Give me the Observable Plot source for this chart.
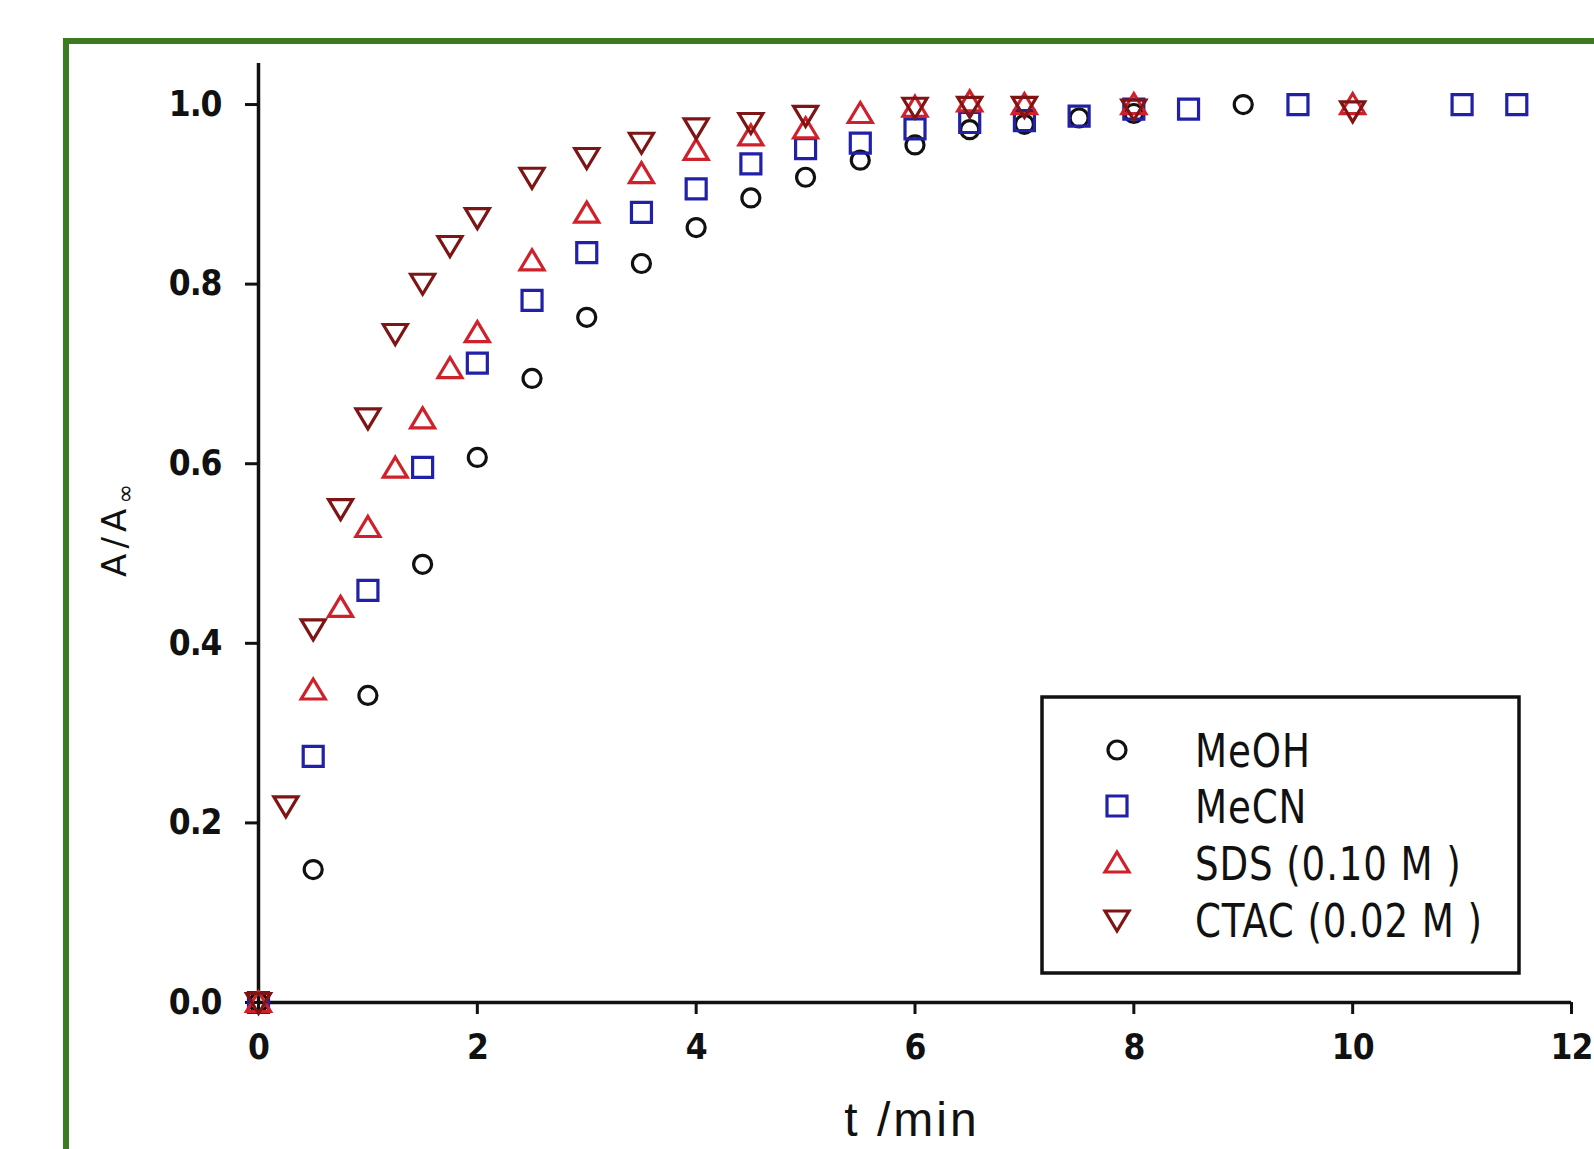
<!DOCTYPE html>
<html><head><meta charset="utf-8">
<script src="https://cdn.jsdelivr.net/npm/d3@7"></script>
<script src="https://cdn.jsdelivr.net/npm/@observablehq/plot@0.6"></script>
<style>
html,body{margin:0;padding:0;background:#fff;}
#wrap{position:relative;width:1594px;height:1149px;overflow:hidden;background:#fff;}
#frame{position:absolute;left:63px;top:38px;width:1700px;height:1300px;border:6px solid #3b7a1f;box-sizing:border-box;}
#chart{position:absolute;left:0;top:0;}
#overlay{position:absolute;left:0;top:0;pointer-events:none;}
.narrow{font-family:"Liberation Sans Narrow","Arial Narrow","DejaVu Sans Condensed",sans-serif;}
#ylab{position:absolute;left:117px;top:528px;transform:translate(-50%,-50%) rotate(-90deg) scale(1,0.9);font-size:38px;letter-spacing:5px;white-space:pre;line-height:1;color:#111;}
</style></head>
<body>
<div id="wrap">
  <div id="frame"></div>
  <div id="chart"></div>
  <div id="ylab" class="narrow">A/A<sub style="font-size:26px">∞</sub></div>
</div>
<script>
// ---- data ----
const seriesNames = ["MeOH", "MeCN", "SDS (0.10 M )", "CTAC (0.02 M )"];

const meohT = [0,0.5,1,1.5,2,2.5,3,3.5,4,4.5,5,5.5,6,6.5,7,7.5,8,9];
const meohV = [0,0.148,0.342,0.488,0.607,0.695,0.763,0.823,0.863,0.896,0.919,0.938,0.955,0.972,0.978,0.985,0.99,1.0];

const mecnT = [0,0.5,1,1.5,2,2.5,3,3.5,4,4.5,5,5.5,6,6.5,7,7.5,8,8.5,9.5,11,11.5];
const mecnV = [0,0.274,0.459,0.596,0.712,0.782,0.835,0.880,0.906,0.934,0.951,0.957,0.973,0.980,0.982,0.987,0.995,0.995,1.0,1.0,1.0];

const sdsT = [0,0.5,0.75,1,1.25,1.5,1.75,2,2.5,3,3.5,4,4.5,5,5.5,6,6.5,7,8,10];
const sdsV = [0,0.348,0.44,0.529,0.595,0.65,0.706,0.746,0.826,0.879,0.923,0.949,0.965,0.973,0.99,0.997,1.003,1.0,1.0,1.0];

const ctacT = [0,0.25,0.5,0.75,1,1.25,1.5,1.75,2,2.5,3,3.5,4,4.5,5,6,6.5,7,8,10];
const ctacV = [0,0.219,0.416,0.55,0.651,0.745,0.801,0.843,0.874,0.919,0.941,0.958,0.974,0.980,0.988,0.997,0.998,0.998,0.995,0.993];

const xTicks = [0,2,4,6,8,10,12];
const yTicks = [0,0.2,0.4,0.6,0.8,1.0];
const xLabel = "t /min";
const colors = ["#111111", "#2020a8", "#d0202a", "#7e1414"];

// ---- symbols ----
const symCircle = {draw(c){ c.moveTo(9,0); c.arc(0,0,9,0,2*Math.PI); c.closePath(); }};
const symSquare = {draw(c){ c.rect(-10,-10,20,20); }};
const symTriUp = {draw(c){ c.moveTo(0,-11); c.lineTo(12,9); c.lineTo(-12,9); c.closePath(); }};
const symTriDown = {draw(c){ c.moveTo(0,11); c.lineTo(12,-9); c.lineTo(-12,-9); c.closePath(); }};
const symbols = [symCircle, symSquare, symTriUp, symTriDown];

const rows = (T, V) => T.map((t, i) => ({t, v: V[i]}));
const sets = [rows(meohT, meohV), rows(mecnT, mecnV), rows(sdsT, sdsV), rows(ctacT, ctacV)];

const yTop = 1.0457;
const font = '"Liberation Sans Narrow","Arial Narrow","DejaVu Sans Condensed",sans-serif';

const plot = Plot.plot({
  width: 1594, height: 1149,
  marginLeft: 258, marginRight: 23, marginTop: 63, marginBottom: 147,
  x: {domain: [0, 12]},
  y: {domain: [0, yTop]},
  style: {background: "transparent", fontFamily: font, fontSize: "35px", fontWeight: "bold", color: "#111", letterSpacing: "-1px"},
  marks: [
    Plot.axisY({ticks: yTicks, tickFormat: d3.format(".1f"), tickSize: 13, tickPadding: 24, label: null, strokeWidth: 3}),
    Plot.axisX({ticks: xTicks, tickSize: 12, tickPadding: 20, label: null, strokeWidth: 3}),
    Plot.ruleX([0], {y1: 0, y2: yTop, stroke: "#111", strokeWidth: 3.5}),
    Plot.ruleY([0], {x1: 0, x2: 12, stroke: "#111", strokeWidth: 3.5}),
    ...sets.map((d, i) => Plot.dot(d, {x: "t", y: "v", symbol: symbols[i], r: 10, stroke: colors[i], strokeWidth: 3.2, fill: "none"}))
  ]
});
document.getElementById("chart").appendChild(plot);

// ---- overlay: x label + legend ----
const ov = d3.select("#wrap").append("svg").attr("id", "overlay").attr("width", 1594).attr("height", 1149);
ov.append("text").attr("x", 912).attr("y", 1136).attr("text-anchor", "middle")
  .attr("font-family", '"Liberation Sans",Arial,sans-serif').attr("font-size", 48)
  .attr("letter-spacing", 3).attr("fill", "#111").style("white-space", "pre").text(xLabel);

ov.append("rect").attr("x", 1042).attr("y", 697).attr("width", 477).attr("height", 276)
  .attr("fill", "#fff").attr("stroke", "#111").attr("stroke-width", 3.5);
const rowY = [750, 806, 863, 920];
seriesNames.forEach((name, i) => {
  const p = d3.path(); symbols[i].draw(p);
  ov.append("path").attr("d", p.toString()).attr("transform", `translate(1117,${rowY[i]})`)
    .attr("fill", "none").attr("stroke", colors[i]).attr("stroke-width", 3.2);
  ov.append("g").attr("transform", `translate(1195,${rowY[i]}) scale(0.88,1)`)
    .append("text").attr("dy", "0.36em")
    .attr("font-family", font).attr("font-size", 47).attr("letter-spacing", 1)
    .attr("fill", "#111").style("white-space", "pre").text(name);
});
</script>
</body></html>
